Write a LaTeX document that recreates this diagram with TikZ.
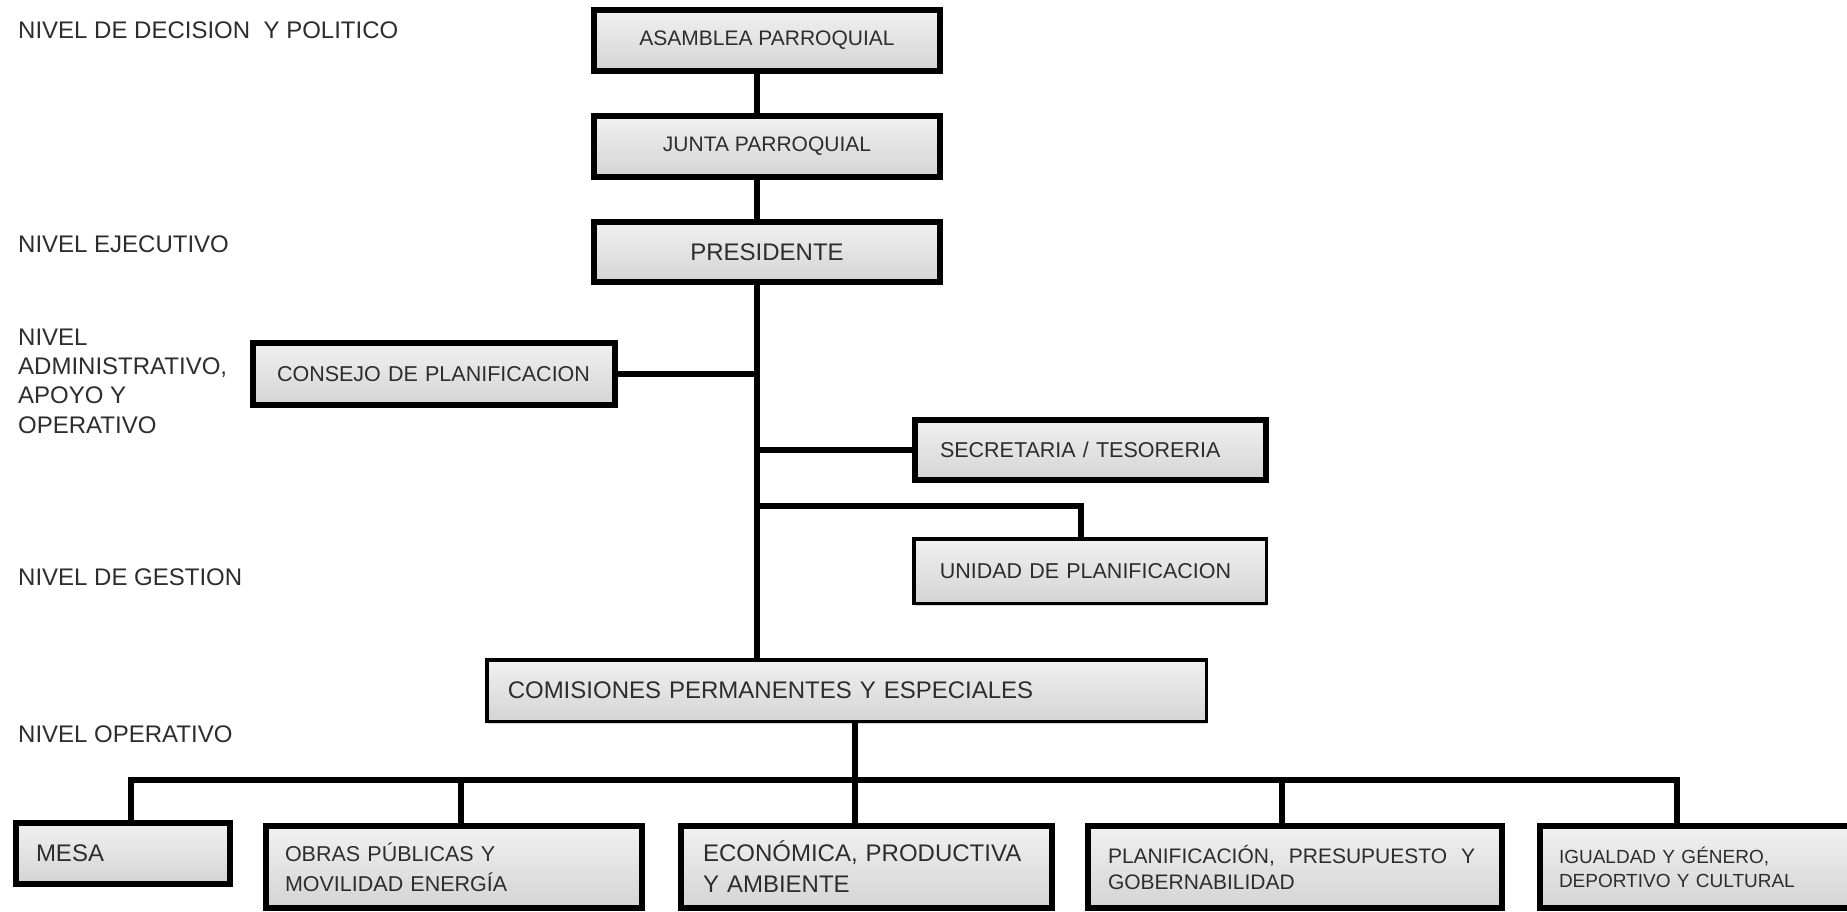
\documentclass[tikz,border=0pt]{standalone}
\usepackage{fontspec}
\setmainfont{Liberation Sans}
\usetikzlibrary{positioning,shadows}
\definecolor{txtG}{RGB}{45,45,45}
\definecolor{boxTop}{RGB}{241,241,241}
\definecolor{boxBot}{RGB}{212,212,212}

\begin{document}
\begin{tikzpicture}[x=1pt,y=-1pt, every node/.style={text=txtG},
  lvl/.style={anchor=base west, inner sep=0pt, align=left, font=\fontsize{24}{29.3}\selectfont},
  orgbox/.style={draw=black, line width=6pt, top color=boxTop, bottom color=boxBot, inner ysep=0pt,
                 drop shadow={opacity=0.3, shadow xshift=1pt, shadow yshift=-3pt}},
  thinbox/.style={orgbox, line width=3.5pt},
  link/.style={line width=6.5pt}]
  % canvas in pixels of the reference, y grows downwards
  \useasboundingbox[fill=white] (0,0) rectangle (1847,912);

  % level labels on the left
  \node[lvl] (lvdec)  at (18,38.6) {NIVEL DE DECISION\ \ Y POLITICO};
  \node[lvl] (lvejec) at (18,252)  {NIVEL EJECUTIVO};
  \node[lvl, anchor=north west] (lvadm) at (18,328.4) {NIVEL\\ADMINISTRATIVO,\\APOYO Y\\OPERATIVO};
  \node[lvl] (lvgest) at (18,585)  {NIVEL DE GESTION};
  \node[lvl] (lvoper) at (18,742)  {NIVEL OPERATIVO};

  % upper chain
  \node[orgbox, minimum width=346, minimum height=61, font=\fontsize{21}{25}\selectfont]
        (asamblea) at (767,40.5) {ASAMBLEA PARROQUIAL};
  \node[orgbox, minimum width=346, minimum height=61, font=\fontsize{21}{25}\selectfont]
        (junta) at (767,146.5) {JUNTA PARROQUIAL};
  \node[orgbox, minimum width=346, minimum height=60, font=\fontsize{24}{28}\selectfont]
        (presi) at (767,252) {PRESIDENTE};

  % support units
  \node[orgbox, minimum height=62, inner xsep=24, text width=314, align=left, font=\fontsize{21.5}{26}\selectfont]
        (consejo) at (434,374) {CONSEJO DE PLANIFICACION};
  \node[orgbox, minimum height=60, inner xsep=25, text width=301, align=left, font=\fontsize{21.5}{26}\selectfont]
        (secret) at (1090.5,450) {SECRETARIA / TESORERIA};
  \node[thinbox, minimum height=64.5, inner xsep=26, text width=300.5, align=left, font=\fontsize{21.5}{26}\selectfont]
        (unidad) at (1090,571) {UNIDAD DE PLANIFICACION};
  \node[thinbox, minimum height=61.5, inner xsep=21, text width=677.5, align=left, font=\fontsize{24}{28}\selectfont]
        (comis) at (846.5,690.5) {COMISIONES PERMANENTES Y ESPECIALES};

  % commissions row
  \node[orgbox, minimum height=61, inner xsep=20, text width=174, align=left, font=\fontsize{24}{28}\selectfont]
        (mesa) at (123,853.5) {MESA};
  \node[orgbox, minimum height=82, inner xsep=19, text width=338, align=left, font=\fontsize{21.5}{30}\selectfont]
        (obras) at (454,867) {OBRAS PÚBLICAS Y\\MOVILIDAD ENERGÍA};
  \node[orgbox, minimum height=82, inner xsep=22, text width=327, align=left, font=\fontsize{24}{31}\selectfont]
        (econ) at (866.5,867) {ECONÓMICA, PRODUCTIVA\\Y AMBIENTE};
  \node[orgbox, minimum height=82, inner xsep=20, text width=374, align=left, font=\fontsize{21}{26}\selectfont]
        (planif) at (1295,867) {PLANIFICACIÓN,\ \ PRESUPUESTO\ \ Y\\GOBERNABILIDAD};
  \node[orgbox, minimum height=82, inner xsep=19, text width=278, align=left, font=\fontsize{19}{24}\selectfont]
        (igual) at (1698,867) {IGUALDAD Y GÉNERO,\\DEPORTIVO Y CULTURAL};

  % main spine
  \coordinate (spine) at (757,0);
  \draw[link] (asamblea.south -| spine) -- (junta.north -| spine);
  \draw[link] (junta.south -| spine) -- (presi.north -| spine);
  \draw[link] (presi.south -| spine) -- (comis.north -| spine);

  % side branches
  \draw[link] (consejo.east) -- (consejo.east -| spine);
  \draw[link] (secret.west) -- (secret.west -| spine);
  \coordinate (ujoin) at (1081,506);
  \draw[link] (ujoin -| spine) -- (ujoin) -- (ujoin |- unidad.north);

  % bus to the commissions
  \foreach \n/\x in {mesa/131, obras/461, econ/855, planif/1282, igual/1677}
    \coordinate (d\n) at (\x,780);
  \draw[link] (decon |- comis.south) -- (decon);
  \draw[link] (dmesa |- mesa.north) -- (dmesa) -- (digual) -- (digual |- igual.north);
  \foreach \n in {obras,econ,planif}
    \draw[link] (d\n) -- (d\n |- \n.north);
\end{tikzpicture}
\end{document}
